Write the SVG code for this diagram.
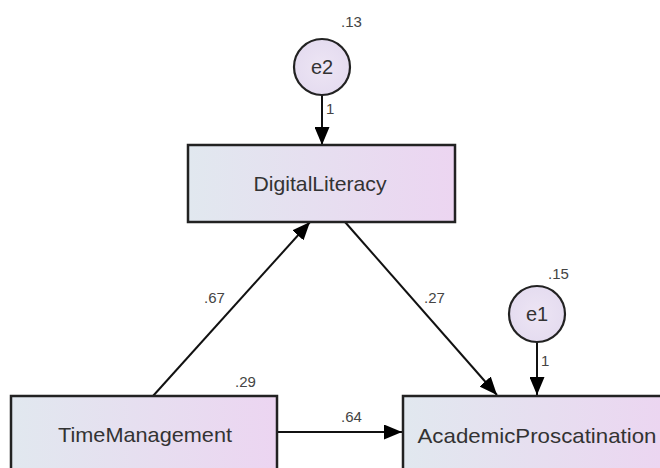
<svg xmlns="http://www.w3.org/2000/svg" width="660" height="468" viewBox="0 0 660 468">
<defs>
<linearGradient id="boxg" x1="0" y1="0" x2="1" y2="0">
<stop offset="0" stop-color="#e1e8ef"/>
<stop offset="1" stop-color="#ecd5f1"/>
</linearGradient>
<radialGradient id="circg" cx="0.5" cy="0.5" r="0.6">
<stop offset="0" stop-color="#ede5f4"/>
<stop offset="1" stop-color="#e3daef"/>
</radialGradient>
<marker id="arr" markerUnits="userSpaceOnUse" markerWidth="19" markerHeight="15" refX="18" refY="7.5" orient="auto">
<path d="M0,0 L18,7.5 L0,15 z" fill="#000"/>
</marker>
<style>
.box{fill:url(#boxg);stroke:#222;stroke-width:2.5}
.circ{fill:url(#circg);stroke:#222;stroke-width:2.2}
.lbl{font-family:"Liberation Sans",Arial,sans-serif;font-size:21px;fill:#333;text-anchor:middle}
.clbl{font-family:"Liberation Sans",Arial,sans-serif;font-size:20px;fill:#333;text-anchor:middle}
.num{font-family:"Liberation Sans",Arial,sans-serif;font-size:15px;fill:#444}
.edge{stroke:#111;stroke-width:2;fill:none;marker-end:url(#arr)}
</style>
</defs>
<rect width="660" height="468" fill="#fff"/>
<g id="connectors">
<line class="edge" x1="322" y1="95" x2="322" y2="145"/>
<line class="edge" x1="537" y1="342" x2="537" y2="395"/>
<line class="edge" x1="153" y1="396" x2="310" y2="222"/>
<line class="edge" x1="345" y1="222" x2="497" y2="395"/>
<line class="edge" x1="277" y1="432" x2="402" y2="432"/>
<text class="num" x="326" y="114" font-size="13">1</text>
<text class="num" x="541" y="366" font-size="13">1</text>
<text class="num" x="204" y="303">.67</text>
<text class="num" x="424" y="303">.27</text>
<text class="num" x="341" y="422">.64</text>
</g>
<g id="e2">
<circle class="circ" cx="322" cy="67" r="28"/>
<text class="clbl" x="322" y="74">e2</text>
<text class="num" x="341" y="27">.13</text>
</g>
<g id="e1">
<circle class="circ" cx="537" cy="314" r="28"/>
<text class="clbl" x="537" y="321">e1</text>
<text class="num" x="548" y="279">.15</text>
</g>
<g id="DigitalLiteracy">
<rect class="box" x="188" y="145" width="267" height="77"/>
<text class="lbl" x="320" y="191" textLength="133" lengthAdjust="spacingAndGlyphs">DigitalLiteracy</text>
</g>
<g id="TimeManagement">
<rect class="box" x="11" y="396" width="266" height="80"/>
<text class="lbl" x="145" y="442" textLength="174" lengthAdjust="spacingAndGlyphs">TimeManagement</text>
<text class="num" x="235" y="387">.29</text>
</g>
<g id="AcademicProscatination">
<rect class="box" x="403" y="396" width="270" height="80"/>
<text class="lbl" x="537" y="443" textLength="239" lengthAdjust="spacingAndGlyphs">AcademicProscatination</text>
</g>
</svg>
